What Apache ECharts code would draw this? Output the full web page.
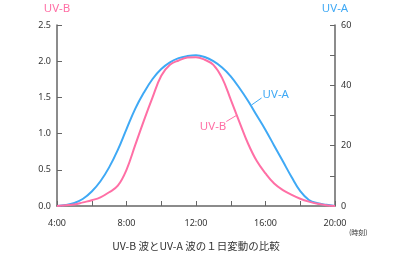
<!DOCTYPE html>
<html><head><meta charset="utf-8">
<script src="https://cdn.jsdelivr.net/npm/echarts@6/dist/echarts.min.js"></script>
<style>html,body{margin:0;padding:0;background:#fff}#c{width:400px;height:256px}</style>
</head><body><div id="c"></div>
<script>
const hours = [4,4.5,5,5.5,6,6.5,7,7.5,8,8.5,9,9.5,10,10.5,11,11.5,12,12.5,13,13.5,14,14.5,15,15.5,16,16.5,17,17.5,18,18.5,19,19.5,20];
const uvA = [0,0.3,1.0,2.4,4.8,8.2,12.8,18.6,25.5,32.2,37.6,42.1,45.4,47.6,49.0,49.7,50.0,49.4,48.0,45.9,43.0,39.1,34.8,30.0,25.2,20.0,14.8,9.6,4.9,2.0,0.9,0.4,0];
const uvB = [0,0.01,0.02,0.05,0.08,0.12,0.19,0.28,0.50,0.84,1.18,1.50,1.80,1.95,2.01,2.05,2.055,2.02,1.95,1.77,1.47,1.16,0.86,0.62,0.45,0.31,0.22,0.155,0.10,0.06,0.03,0.01,0];
const xLabels = [4,8,12,16,20];
const leftTicks = [0,0.5,1.0,1.5,2.0,2.5];
const rightLabels = [0,20,40,60];
const title = 'UV-B 波とUV-A 波の１日変動の比較';
const unit = '(時刻)';
const nameA = 'UV-A', nameB = 'UV-B';

const blue = '#3fa9f5', pink = '#ff6fa5', axisC = '#666', txt = '#333';
const chart = echarts.init(document.getElementById('c'));
const baseAxis = {
  axisLine:{show:true,lineStyle:{color:axisC,width:1.5}},
  axisTick:{show:true,inside:true,length:5,lineStyle:{color:axisC,width:1}},
  splitLine:{show:false},
  axisLabel:{color:txt,fontSize:9,fontFamily:'Noto Sans'}
};
chart.setOption({
  animation:false,
  grid:{left:57,right:65,top:25,bottom:50,containLabel:false},
  xAxis:Object.assign({},baseAxis,{type:'value',min:4,max:20,interval:2,
    axisLabel:Object.assign({},baseAxis.axisLabel,{margin:13,
      formatter:v=>xLabels.indexOf(v)>=0?(v+':00'):''})}),
  yAxis:[
    Object.assign({},baseAxis,{type:'value',min:0,max:2.5,interval:0.5,position:'left',
      name:nameB,nameLocation:'end',nameGap:10,
      nameTextStyle:{color:pink,fontSize:11.5,fontFamily:'Noto Sans',align:'center'},
      axisLabel:Object.assign({},baseAxis.axisLabel,{margin:6,formatter:v=>leftTicks.indexOf(v)>=0?v.toFixed(1):''})}),
    Object.assign({},baseAxis,{type:'value',min:0,max:60,interval:10,position:'right',
      name:nameA,nameLocation:'end',nameGap:10,
      nameTextStyle:{color:blue,fontSize:11.5,fontFamily:'Noto Sans',align:'center'},
      axisLabel:Object.assign({},baseAxis.axisLabel,{margin:6,formatter:v=>rightLabels.indexOf(v)>=0?String(v):''})})
  ],
  series:[
    {type:'line',name:nameA,yAxisIndex:1,data:hours.map((h,i)=>[h,uvA[i]]),smooth:0.4,showSymbol:false,
     lineStyle:{color:blue,width:2},z:2},
    {type:'line',name:nameB,yAxisIndex:0,data:hours.map((h,i)=>[h,uvB[i]]),smooth:0.4,showSymbol:false,
     lineStyle:{color:pink,width:2},z:3}
  ]
});
const pA = chart.convertToPixel({xAxisIndex:0,yAxisIndex:1},[15.2,33.5]);
const pB = chart.convertToPixel({xAxisIndex:0,yAxisIndex:0},[14.32,1.25]);
const gridR = chart.convertToPixel({xAxisIndex:0,yAxisIndex:0},[20,0]);
const gridL = chart.convertToPixel({xAxisIndex:0,yAxisIndex:0},[4,0]);
chart.setOption({graphic:[
  {type:'line',shape:{x1:pA[0],y1:pA[1],x2:pA[0]+10,y2:pA[1]-7},style:{stroke:blue,lineWidth:1}},
  {type:'text',x:pA[0]+11,y:pA[1]-10,style:{text:nameA,fill:blue,fontSize:11.5,fontFamily:'Noto Sans',textVerticalAlign:'middle'}},
  {type:'line',shape:{x1:pB[0],y1:pB[1],x2:pB[0]-10,y2:pB[1]+6},style:{stroke:pink,lineWidth:1}},
  {type:'text',x:pB[0]-10,y:pB[1]+11,style:{text:nameB,fill:pink,fontSize:11.5,fontFamily:'Noto Sans',textAlign:'right',textVerticalAlign:'middle'}},
  {type:'text',x:gridR[0]+14,y:gridR[1]+26,style:{text:unit,fill:txt,fontSize:7,fontFamily:'Noto Sans CJK JP',textVerticalAlign:'middle'}},
  {type:'text',x:(gridL[0]+gridR[0])/2,y:gridR[1]+40,style:{text:title,fill:txt,fontSize:10.5,fontFamily:'Noto Sans CJK JP',textAlign:'center',textVerticalAlign:'middle'}}
]});
</script></body></html>
